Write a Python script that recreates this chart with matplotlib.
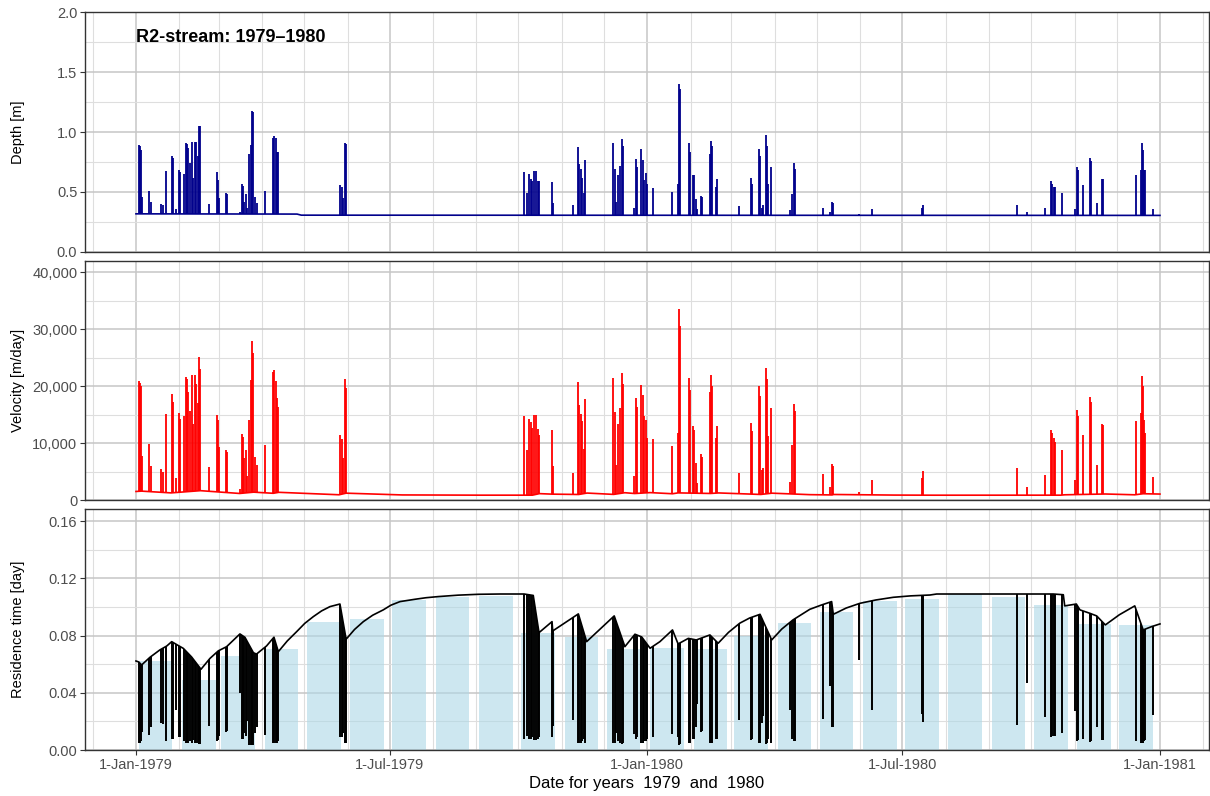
import numpy as np
import matplotlib
matplotlib.use("Agg")
import matplotlib.pyplot as plt
import matplotlib.dates as mdates
from matplotlib.path import Path
from matplotlib.ticker import FuncFormatter, MultipleLocator

plt.rcParams['font.family'] = ['Liberation Sans', 'DejaVu Sans']

start = np.datetime64('1979-01-01T00:00')

# storm events: day of record, peak depth [m], peak velocity [m/day], lowest residence time [day]
event_day = [2.0, 3.0, 3.8, 4.5, 9.5, 11.0, 17.6, 19.0, 21.3, 25.8, 26.5, 28.5, 30.7, 31.7,
             34.0, 35.5, 36.3, 37.3, 38.5, 39.7, 41.0, 42.0, 43.0, 44.0, 44.7, 46.0, 51.9,
             57.8, 58.7, 59.3, 64.0, 64.8, 74.0, 75.4, 76.3, 77.0, 78.3, 79.5, 81.0, 81.9,
             82.8, 83.7, 84.7, 86.1, 91.8, 98.0, 98.8, 99.6, 100.4, 101.2, 145.6, 146.8,
             148.0, 149.0, 150.0,
             277.2, 278.8, 280.6, 281.8, 283.0, 284.4, 285.6, 286.8, 287.7, 296.7, 297.7,
             311.7, 315.8, 316.5, 317.5, 318.4, 319.8, 320.8, 340.8, 341.7, 342.7, 343.9,
             345.5, 346.9, 347.9, 355.7, 356.7, 357.4, 360.7, 361.7, 362.6, 363.8, 365.0,
             368.8, 382.6, 386.9, 387.9, 388.6, 395.0, 395.8, 397.4, 398.2, 399.8, 400.8,
             403.3, 404.3, 409.5, 410.7, 411.4, 413.8, 415.0, 430.7, 438.8, 439.7, 444.7,
             445.7, 446.9, 447.8, 449.7, 450.4, 451.1, 453.0, 467.1, 468.5, 469.5, 470.2,
             490.7, 495.5, 496.9, 497.6, 515.9, 525.2, 561.3, 562.0, 629.2, 635.8, 649.1,
             653.0, 654.0, 655.0, 656.0, 661.3, 670.3, 672.0, 672.7, 676.3, 681.0, 681.7,
             686.0, 689.8, 690.5, 713.6, 717.4, 718.1, 718.8, 719.8, 720.5, 725.8]
depth_peak = [0.89, 0.88, 0.85, 0.46, 0.51, 0.42, 0.40, 0.39, 0.675, 0.80, 0.78, 0.36, 0.68, 0.67,
              0.65, 0.91, 0.90, 0.87, 0.74, 0.92, 0.62, 0.92, 0.92, 0.80, 1.05, 1.05, 0.40,
              0.67, 0.60, 0.45, 0.49, 0.48, 0.33, 0.57, 0.55, 0.42, 0.48, 0.37, 0.82, 0.89,
              1.175, 1.17, 0.46, 0.41, 0.505, 0.947, 0.97, 0.95, 0.83, 0.83, 0.56, 0.54,
              0.45, 0.906, 0.90,
              0.669, 0.49, 0.65, 0.61, 0.594, 0.675, 0.675, 0.59, 0.59, 0.586, 0.41,
              0.39, 0.872, 0.73, 0.69, 0.62, 0.49, 0.767, 0.906, 0.69, 0.42, 0.64,
              0.72, 0.939, 0.88, 0.37, 0.772, 0.71, 0.856, 0.77, 0.60, 0.66, 0.57,
              0.536, 0.50, 0.57, 1.40, 1.36, 0.906, 0.83, 0.64, 0.64, 0.44, 0.36,
              0.467, 0.46, 0.817, 0.925, 0.88, 0.54, 0.61, 0.38, 0.614, 0.57, 0.856,
              0.80, 0.37, 0.39, 0.975, 0.88, 0.57, 0.711, 0.35, 0.48, 0.739, 0.69,
              0.37, 0.33, 0.42, 0.41, 0.32, 0.355, 0.37, 0.39, 0.39, 0.33, 0.37,
              0.59, 0.57, 0.545, 0.54, 0.49, 0.355, 0.705, 0.68, 0.56, 0.78, 0.76,
              0.41, 0.61, 0.61, 0.64, 0.68, 0.911, 0.85, 0.68, 0.68, 0.36]
velocity_peak = [20850, 20500, 20000, 7800, 9800, 6000, 5460, 5000, 15100, 18600, 17200, 3900, 15270, 14300,
                 14700, 21550, 21300, 19000, 15700, 22000, 13400, 22000, 20300, 17000, 25070, 23000, 5870,
                 14860, 14000, 9300, 8800, 8500, 2000, 11570, 11000, 7400, 8700, 4300, 14000, 21100,
                 28000, 25800, 7500, 6200, 9700, 22500, 22900, 21000, 17900, 16400, 11450, 10700,
                 7400, 21300, 19600,
                 14800, 8800, 14200, 13700, 12600, 14850, 14850, 12500, 11400, 12330, 5900,
                 4810, 20670, 16700, 15100, 13900, 9000, 17740, 21440, 15500, 6100, 13400,
                 16100, 22320, 20400, 4280, 17920, 16300, 20140, 18500, 14700, 14100, 10900,
                 10690, 9515, 11750, 33600, 30530, 21440, 19400, 13060, 12240, 6480, 2950,
                 8100, 7630, 18900, 22000, 20000, 10900, 13060, 4800, 13500, 12200, 19970,
                 18300, 5280, 5580, 23200, 21260, 11160, 16150, 3240, 9700, 16860, 15570,
                 4520, 2230, 6340, 6000, 1470, 3520, 3880, 5170, 5580, 2200, 4400,
                 12330, 11740, 10870, 10280, 8810, 3500, 15740, 14680, 11450, 18090, 17300,
                 6150, 13390, 13200, 13970, 15300, 21730, 20000, 14100, 11740, 4110]
rt_low = [0.0047, 0.005, 0.006, 0.0126, 0.0105, 0.016, 0.019, 0.018, 0.006, 0.0076, 0.008, 0.028, 0.0088, 0.009,
          0.006, 0.0047, 0.005, 0.005, 0.006, 0.0047, 0.007, 0.0047, 0.005, 0.005, 0.004, 0.0045, 0.017,
          0.0066, 0.007, 0.010, 0.0126, 0.013, 0.04, 0.008, 0.008, 0.012, 0.010, 0.020, 0.0035, 0.0035,
          0.0035, 0.0035, 0.012, 0.0158, 0.0105, 0.0047, 0.0047, 0.005, 0.005, 0.006, 0.0088, 0.009,
          0.012, 0.0047, 0.005,
          0.008, 0.010, 0.008, 0.008, 0.009, 0.007, 0.007, 0.008, 0.009, 0.009, 0.017,
          0.021, 0.0047, 0.005, 0.005, 0.006, 0.008, 0.005, 0.005, 0.005, 0.012, 0.006,
          0.005, 0.0045, 0.005, 0.011, 0.008, 0.009, 0.005, 0.005, 0.006, 0.006, 0.008,
          0.0088, 0.011, 0.009, 0.0035, 0.004, 0.005, 0.005, 0.0075, 0.008, 0.0158, 0.032,
          0.0126, 0.013, 0.005, 0.0047, 0.005, 0.0075, 0.0075, 0.021, 0.007, 0.008, 0.005,
          0.005, 0.019, 0.024, 0.0045, 0.005, 0.008, 0.005, 0.0277, 0.008, 0.006, 0.006,
          0.022, 0.045, 0.0158, 0.016, 0.063, 0.028, 0.025, 0.0198, 0.0175, 0.0466, 0.0228,
          0.0093, 0.0095, 0.010, 0.010, 0.0117, 0.027, 0.0066, 0.007, 0.008, 0.0055, 0.006,
          0.0158, 0.007, 0.007, 0.0066, 0.0047, 0.0047, 0.005, 0.006, 0.007, 0.0245]

# low-flow baselines between events
depth_base_day = [0, 115, 118, 731]
depth_base = [0.318, 0.316, 0.307, 0.305]

vel_base_day = [0, 4, 25, 46, 74, 84, 98, 102, 145, 150, 190, 245, 283, 288, 297, 316, 322, 341,
                349, 356, 367, 383, 387, 410, 416, 446, 454, 481, 497, 498, 541, 570, 660, 663,
                692, 713, 719, 731]
vel_base = [1500, 1560, 1250, 1640, 1150, 1380, 1180, 1350, 920, 1200, 890, 850, 850, 1120, 1030,
            970, 1220, 985, 1280, 1140, 1300, 1100, 1250, 1150, 1240, 975, 1200, 940, 890, 970,
            865, 845, 850, 915, 1055, 915, 1100, 1045]

rt_base_day = [0, 2, 4, 10, 17, 22, 25.5, 30.2, 33.8, 39.7, 46.4, 52.8, 58.8, 64.7, 74.2, 77.8,
               83.8, 86, 93.2, 98.5, 101.6, 108, 114.7, 120.5, 126.6, 132.5, 138.5, 145.6, 150,
               156, 162.3, 169, 176.5, 182, 188.5, 199, 207, 215.8, 230, 244.4, 260, 277, 283.6,
               287.7, 297, 297.5, 315.8, 321.7, 341.4, 349, 356.2, 361, 367, 374, 383, 387,
               394.3, 400, 409.7, 415.6, 423, 431, 438, 445.5, 453.8, 461, 469, 481, 489, 496.6,
               497.8, 507, 516.8, 528, 540.6, 553, 566.8, 571.6, 654.8, 662, 663, 671.3, 673.9,
               681, 685.8, 692, 702, 713, 719, 725, 731]
rt_base = [0.0622, 0.0615, 0.0594, 0.0648, 0.0699, 0.0727, 0.0757, 0.073, 0.071, 0.065, 0.0564,
           0.064, 0.0693, 0.0722, 0.0811, 0.0787, 0.068, 0.067, 0.0727, 0.0788, 0.0687, 0.0762,
           0.0827, 0.0885, 0.0932, 0.0972, 0.1002, 0.102, 0.0774, 0.0842, 0.0897, 0.0942, 0.0979,
           0.1012, 0.1037, 0.1053, 0.1064, 0.1072, 0.1082, 0.1088, 0.109, 0.109, 0.108,
           0.082, 0.0897, 0.0832, 0.0951, 0.0757, 0.0937, 0.0722, 0.0809, 0.079, 0.0711, 0.0757,
           0.0839, 0.0741, 0.078, 0.0769, 0.0804, 0.0746, 0.0822, 0.0886, 0.0922, 0.0948,
           0.0769, 0.0845, 0.0909, 0.0983, 0.1012, 0.1037, 0.0948, 0.0992, 0.1025, 0.1048,
           0.1067, 0.1077, 0.1083, 0.109, 0.109, 0.1085, 0.1007, 0.102, 0.0979, 0.0955, 0.0937,
           0.0874, 0.0945, 0.1007, 0.0839, 0.0862, 0.0881]

# monthly mean residence time (bars)
months = np.arange('1979-01', '1981-01', dtype='datetime64[M]')
rt_monthly = [0.0624, 0.049, 0.0657, 0.0706, 0.0897, 0.0914, 0.1046, 0.107, 0.1079, 0.0816, 0.0792, 0.0706,
              0.0711, 0.0706, 0.0797, 0.0886, 0.0967, 0.104, 0.1055, 0.1088, 0.107, 0.1013, 0.0883, 0.0874]


def to_date(days):
    mins = np.round(np.asarray(days, dtype=float) * 1440).astype(int)
    return start + mins.astype('timedelta64[m]')


def spikes(ax, bday, bval, day, tip, opp, far, color, lw=1.3):
    # vertical spikes, clipped so they only show on the far side of the baseline
    bx = mdates.date2num(to_date(bday))
    xs = np.r_[bx[0], bx, bx[-1], bx[0]]
    ys = np.r_[far, bval, far, far]
    clip = Path(np.column_stack([xs, ys]), closed=True)
    lc = ax.vlines(to_date(day), np.minimum(tip, opp), np.maximum(tip, opp), colors=color, lw=lw, zorder=2)
    lc.set_clip_path(clip, ax.transData)
    ax.plot(to_date(bday), bval, color=color, lw=1.2, zorder=2.1)


fig = plt.figure(figsize=(12.1, 7.96), dpi=100)
L, W = 85 / 1210, 1124 / 1210
ax1 = fig.add_axes([L, 1 - 252 / 796, W, 240 / 796])
ax2 = fig.add_axes([L, 1 - 500 / 796, W, 239 / 796])
ax3 = fig.add_axes([L, 1 - 750 / 796, W, 241 / 796])

spikes(ax1, depth_base_day, depth_base, event_day, depth_peak, 0, 10, '#00008B')
spikes(ax2, vel_base_day, vel_base, event_day, velocity_peak, 0, 1e6, '#FF0000')
bar_x = months.astype('datetime64[m]') + np.timedelta64(14 * 1440, 'm')
ax3.bar(bar_x, rt_monthly, width=np.timedelta64(24 * 1440, 'm'),
        color='lightblue', alpha=0.6, zorder=1)
spikes(ax3, rt_base_day, rt_base, event_day, rt_low, 1, -1, 'black', lw=1.4)

ax1.set_ylim(0, 2.0)
ax1.yaxis.set_major_locator(MultipleLocator(0.5))
ax1.yaxis.set_minor_locator(MultipleLocator(0.25))
ax1.yaxis.set_major_formatter(FuncFormatter(lambda v, p: f"{v:.1f}"))
ax1.set_ylabel("Depth [m]")
ax1.text(to_date(0), 1.785, "R2-stream: 1979\u20131980", fontsize=13, fontweight='bold', va='center', ha='left')

ax2.set_ylim(0, 42000)
ax2.yaxis.set_major_locator(MultipleLocator(10000))
ax2.yaxis.set_minor_locator(MultipleLocator(5000))
ax2.yaxis.set_major_formatter(FuncFormatter(lambda v, p: f"{v:,.0f}"))
ax2.set_ylabel("Velocity [m/day]")

ax3.set_ylim(0, 0.1684)
ax3.yaxis.set_major_locator(MultipleLocator(0.04))
ax3.yaxis.set_minor_locator(MultipleLocator(0.02))
ax3.yaxis.set_major_formatter(FuncFormatter(lambda v, p: f"{v:.2f}"))
ax3.set_ylabel("Residence time [day]")
ax3.set_xlabel("Date for years  1979  and  1980", fontsize=12, labelpad=3)


def date_label(v, pos):
    d = mdates.num2date(v)
    return f"{d.day}-{d:%b-%Y}"


for ax in (ax1, ax2, ax3):
    ax.set_xlim(to_date(-36.4), to_date(766))
    ax.xaxis.set_major_locator(mdates.MonthLocator(bymonth=[1, 7]))
    ax.xaxis.set_minor_locator(mdates.MonthLocator())
    ax.xaxis.set_major_formatter(FuncFormatter(date_label))
    ax.set_axisbelow(True)
    ax.grid(which='major', color='#c6c6c6', lw=1.1)
    ax.grid(which='minor', color='#dedede', lw=0.8)
    for s in ax.spines.values():
        s.set_color('#333333')
        s.set_linewidth(1.0)
    ax.tick_params(which='major', length=3.5, width=0.8, color='#333333', labelsize=10.5,
                   labelcolor='#4d4d4d', pad=2)
    ax.tick_params(which='minor', length=0)
    ax.yaxis.label.set_fontsize(10.5)
    ax.yaxis.set_label_coords(-0.053, 0.5)

for ax in (ax1, ax2):
    ax.tick_params(axis='x', which='both', length=0, labelbottom=False)

fig.savefig("out.png", dpi=100)
